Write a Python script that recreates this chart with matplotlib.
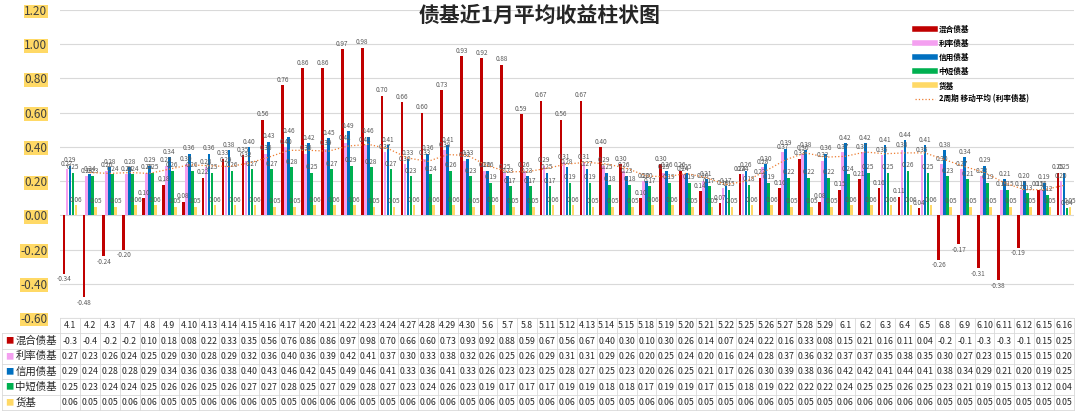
import numpy as np
import pandas as pd
import matplotlib
matplotlib.use("Agg")
import matplotlib.pyplot as plt
from matplotlib.lines import Line2D

plt.rcParams['font.family'] = ['Noto Sans CJK SC', 'DejaVu Sans']

dates = ["4.1", "4.2", "4.3", "4.7", "4.8", "4.9", "4.10", "4.13", "4.14", "4.15", "4.16",
         "4.17", "4.20", "4.21", "4.22", "4.23", "4.24", "4.27", "4.28", "4.29", "4.30", "5.6", "5.7", "5.8",
         "5.11", "5.12", "4.13", "5.14", "5.15", "5.18", "5.19", "5.20", "5.21", "5.22", "5.25", "5.26", "5.27", "5.28",
         "5.29", "6.1", "6.2", "6.3", "6.4", "6.5", "6.8", "6.9", "6.10", "6.11", "6.12", "6.15", "6.16"]

mixed = [-0.34, -0.48, -0.24, -0.20, 0.10, 0.18, 0.08, 0.22, 0.33, 0.35, 0.56,
         0.76, 0.86, 0.86, 0.97, 0.98, 0.70, 0.66, 0.60, 0.73, 0.93, 0.92, 0.88, 0.59,
         0.67, 0.56, 0.67, 0.40, 0.30, 0.10, 0.30, 0.26, 0.14, 0.07, 0.24, 0.22, 0.16, 0.33,
         0.08, 0.15, 0.21, 0.16, 0.11, 0.04, -0.26, -0.17, -0.31, -0.38, -0.19, 0.15, 0.25]
rate = [0.27, 0.23, 0.26, 0.24, 0.25, 0.29, 0.30, 0.28, 0.29, 0.32, 0.36,
        0.40, 0.36, 0.39, 0.42, 0.41, 0.37, 0.30, 0.33, 0.38, 0.32, 0.26, 0.25, 0.26,
        0.29, 0.31, 0.31, 0.29, 0.26, 0.20, 0.25, 0.24, 0.20, 0.16, 0.24, 0.28, 0.37, 0.36,
        0.32, 0.37, 0.37, 0.35, 0.38, 0.35, 0.30, 0.27, 0.23, 0.15, 0.15, 0.15, 0.20]
credit = [0.29, 0.24, 0.28, 0.28, 0.29, 0.34, 0.36, 0.36, 0.38, 0.40, 0.43,
          0.46, 0.42, 0.45, 0.49, 0.46, 0.41, 0.33, 0.36, 0.41, 0.33, 0.26, 0.23, 0.23,
          0.25, 0.28, 0.27, 0.25, 0.23, 0.20, 0.26, 0.25, 0.21, 0.17, 0.26, 0.30, 0.39, 0.38,
          0.36, 0.42, 0.42, 0.41, 0.44, 0.41, 0.38, 0.34, 0.29, 0.21, 0.20, 0.19, 0.25]
short = [0.25, 0.23, 0.24, 0.24, 0.25, 0.26, 0.26, 0.25, 0.26, 0.27, 0.27,
         0.28, 0.25, 0.27, 0.29, 0.28, 0.27, 0.23, 0.24, 0.26, 0.23, 0.19, 0.17, 0.17,
         0.17, 0.19, 0.19, 0.18, 0.18, 0.17, 0.19, 0.19, 0.17, 0.15, 0.18, 0.19, 0.22, 0.22,
         0.22, 0.24, 0.25, 0.25, 0.26, 0.25, 0.23, 0.21, 0.19, 0.15, 0.13, 0.12, 0.04]
money = [0.06, 0.05, 0.05, 0.06, 0.06, 0.05, 0.05, 0.06, 0.06, 0.06, 0.05,
         0.05, 0.06, 0.06, 0.06, 0.05, 0.05, 0.06, 0.06, 0.06, 0.05, 0.06, 0.05, 0.05,
         0.06, 0.06, 0.05, 0.05, 0.05, 0.06, 0.06, 0.05, 0.05, 0.05, 0.06, 0.06, 0.05, 0.05,
         0.05, 0.06, 0.06, 0.06, 0.06, 0.06, 0.05, 0.05, 0.05, 0.05, 0.05, 0.05, 0.05]

names = ["混合债基", "利率债基", "信用债基", "中短债基", "货基"]
series = [mixed, rate, credit, short, money]
colors = ["#C00000", "#F4A0F0", "#0070C0", "#00B050", "#FFD966"]

fig = plt.figure(figsize=(10.8, 4.18), dpi=100)
ax = fig.add_axes([60 / 1080, 1 - 318 / 418, 1014 / 1080, 308 / 418])
tax = fig.add_axes([60 / 1080, 1 - 410 / 418, 1014 / 1080, 92 / 418], sharex=ax)

x = np.arange(len(dates))
w = 0.15
for k, (vals, c) in enumerate(zip(series, colors)):
    bars = ax.bar(x + (k - 2) * w, vals, width=w * 0.9, color=c, zorder=2)
    ax.bar_label(bars, labels=[f"{v:.2f}" for v in vals], fontsize=4.6,
                 color="#595959", padding=1)

# 2-period moving average of the rate series
ma = pd.Series(rate).rolling(2).mean()
ax.plot(x, ma, ls=":", color="#ED7D31", lw=0.9, zorder=3)

ax.set_xlim(-0.5, len(dates) - 0.5)
ax.set_ylim(-0.6, 1.2)
ax.set_yticks(np.arange(-0.6, 1.21, 0.2))
ax.set_yticklabels([f"{v:.2f}" for v in np.arange(-0.6, 1.21, 0.2)], fontsize=8.5, color="#404040")
for lab in ax.get_yticklabels():
    lab.set_bbox(dict(facecolor="#FFD966", edgecolor="none", pad=0.3))
ax.tick_params(axis="y", length=0, pad=9)
ax.tick_params(axis="x", length=0, labelbottom=False)
ax.yaxis.grid(True, color="#D9D9D9", lw=0.8, zorder=0)
for s in ax.spines.values():
    s.set_visible(False)

fig.text(0.5, 0.962, "债基近1月平均收益柱状图", ha="center", va="center",
         fontsize=15, fontweight="bold", color="#262626")

handles = [Line2D([], [], color=c, lw=4) for c in colors]
handles.append(Line2D([], [], color="#ED7D31", lw=0.9, ls=":"))
ax.legend(handles, names + ["2周期 移动平均 (利率债基)"], loc="upper left",
          bbox_to_anchor=(908 / 1080, 1 - 18 / 418), bbox_transform=fig.transFigure,
          frameon=False, prop={"size": 5.5, "weight": "bold"}, handlelength=2.6,
          handletextpad=0.5, labelspacing=0.65)

# data table under the chart
tax.set_ylim(6, 0)
tax.axis("off")
grid_c = "#D9D9D9"
for r in range(7):
    x0 = -0.5 if r == 0 else -3.4
    tax.plot([x0, len(dates) - 0.5], [r, r], color=grid_c, lw=0.6, clip_on=False)
for i in range(len(dates) + 1):
    tax.plot([i - 0.5, i - 0.5], [0, 6], color=grid_c, lw=0.6, clip_on=False)
tax.plot([-3.4, -3.4], [1, 6], color=grid_c, lw=0.6, clip_on=False)

for i, d in enumerate(dates):
    tax.text(i, 0.5, d, ha="center", va="center", fontsize=6.3, color="#262626", clip_on=False)


def fmt(v):
    # the table column is narrow, so negatives are cut to one decimal
    if v < 0:
        return f"{int(v * 10) / 10:.1f}"
    return f"{v:.2f}"


for r, (nm, vals, c) in enumerate(zip(names, series, colors), start=1):
    tax.text(-3.25, r + 0.5, "■", ha="left", va="center", fontsize=6, color=c, clip_on=False)
    tax.text(-2.75, r + 0.5, nm, ha="left", va="center", fontsize=7.5, color="#262626", clip_on=False)
    for i, v in enumerate(vals):
        tax.text(i, r + 0.5, fmt(v), ha="center", va="center", fontsize=6.3,
                 color="#262626", clip_on=False)

fig.savefig("out.png", dpi=100)
